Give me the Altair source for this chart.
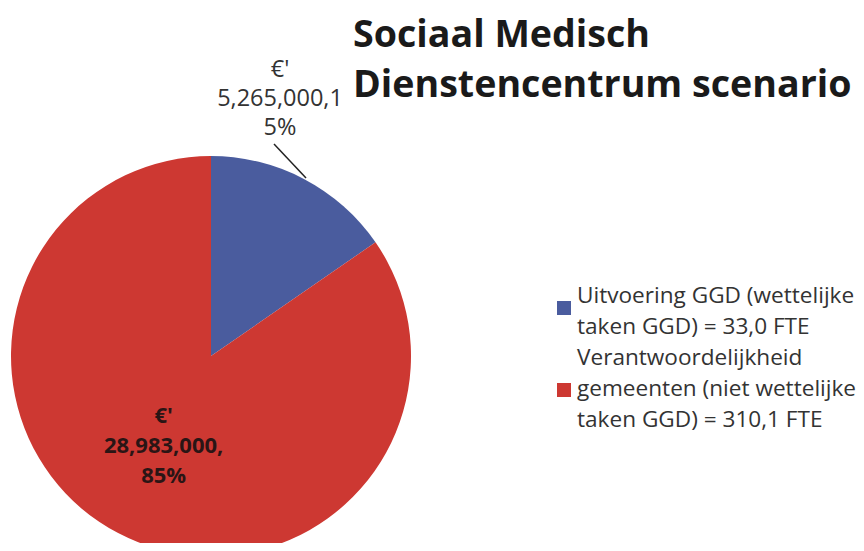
import altair as alt
import pandas as pd

# ---- data ----
categories = [
    "Uitvoering GGD (wettelijke taken GGD) = 33,0 FTE",
    "Verantwoordelijkheid gemeenten (niet wettelijke taken GGD) = 310,1 FTE",
]
values = [5265000, 28983000]
colors = ["#4a5c9e", "#cd3832"]
blue_label_lines = ["€'", "5,265,000,1", "5%"]
red_label_lines = ["€'", "28,983,000,", "85%"]
legend_lines_1 = ["Uitvoering GGD (wettelijke", "taken GGD) = 33,0 FTE"]
legend_lines_2 = ["Verantwoordelijkheid", "gemeenten (niet wettelijke", "taken GGD) = 310,1 FTE"]
title_lines = ["Sociaal Medisch", "Dienstencentrum scenario"]

df = pd.DataFrame({
    "cat": categories,
    "value": values,
    "idx": [0, 1],
    "inside": ["", "\n".join(red_label_lines)],
})
one = pd.DataFrame({"k": [0]})

color_scale = alt.Scale(domain=categories, range=colors)
CX, CY, R = 203, 348, 200

pie = alt.Chart(df).mark_arc(radius=R).encode(
    theta=alt.Theta("value:Q", stack=True),
    order=alt.Order("idx:Q"),
    color=alt.Color("cat:N", scale=color_scale, legend=None),
    x=alt.value(CX),
    y=alt.value(CY),
)

inside_text = alt.Chart(df).mark_text(
    radius=102, dy=-23, font="Open Sans", fontSize=22, fontWeight="bold",
    color="#2a1515", lineBreak="\n", lineHeight=30, baseline="alphabetic", align="center",
).encode(
    theta=alt.Theta("value:Q", stack=True),
    order=alt.Order("idx:Q"),
    text="inside:N",
    x=alt.value(CX),
    y=alt.value(CY),
)

blue_label = alt.Chart(one).mark_text(
    text=blue_label_lines, x=272, y=69, font="Open Sans", fontSize=23.5,
    color="#333333", lineHeight=29, baseline="alphabetic", align="center",
)

leader = alt.Chart(one).mark_rule(color="#222222", strokeWidth=1.5).encode(
    x=alt.value(266), y=alt.value(136), x2=alt.value(298), y2=alt.value(170)
)

title = alt.Chart(one).mark_text(
    text=title_lines, x=345, y=39, font="Open Sans", fontSize=37.6, fontWeight="bold",
    color="#1a1a1a", lineHeight=50, baseline="alphabetic", align="left",
)

squares = alt.Chart(df).mark_square(size=196, opacity=1).encode(
    x=alt.value(556),
    y=alt.Y("idx:Q", scale=alt.Scale(domain=[0, 1], range=[300, 382]), axis=None),
    color=alt.Color("cat:N", scale=color_scale, legend=None),
)

leg1 = alt.Chart(one).mark_text(
    text=legend_lines_1, x=569, y=295, font="Open Sans", fontSize=22.6,
    color="#333333", lineHeight=31, baseline="alphabetic", align="left",
)
leg2 = alt.Chart(one).mark_text(
    text=legend_lines_2, x=569, y=357, font="Open Sans", fontSize=22.6,
    color="#333333", lineHeight=31, baseline="alphabetic", align="left",
)

chart = alt.layer(pie, inside_text, blue_label, leader, title, squares, leg1, leg2).properties(
    width=848, height=535, padding=0, autosize=alt.AutoSizeParams(type="none"),
    background="white",
).configure_view(stroke="transparent")

chart.save("out.html", embed_options={"renderer": "svg", "actions": False})
